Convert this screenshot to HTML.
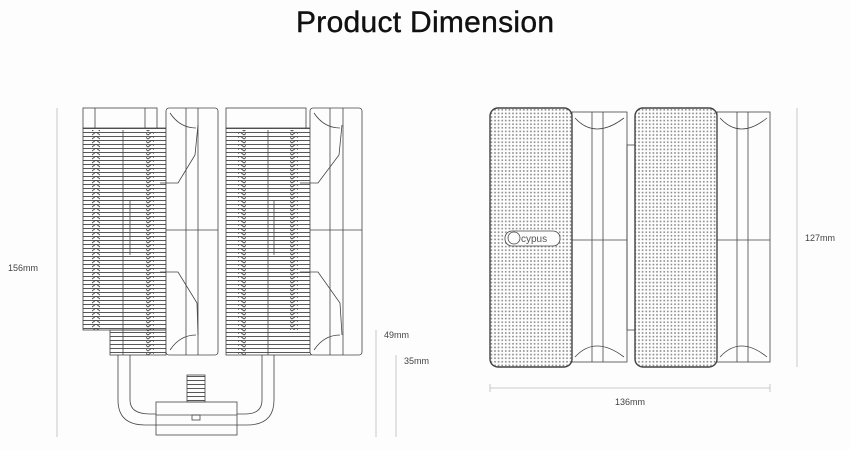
<!DOCTYPE html>
<html><head><meta charset="utf-8"><style>
html,body{margin:0;padding:0;background:#fdfdfd;width:850px;height:450px;overflow:hidden}
svg{display:block}
</style></head><body>
<svg width="850" height="450" viewBox="0 0 850 450" xmlns="http://www.w3.org/2000/svg" font-family="Liberation Sans, sans-serif">
<defs>
<pattern id="fins" width="6" height="4" patternUnits="userSpaceOnUse">
<line x1="0" y1="0.5" x2="6" y2="0.5" stroke="#444" stroke-width="0.9"/>
</pattern>
<pattern id="vv" width="8" height="4" patternUnits="userSpaceOnUse">
<path d="M0 0 L4 3 L8 0" fill="none" stroke="#444" stroke-width="0.8"/>
</pattern>
<pattern id="dots" width="3.6" height="3.6" patternUnits="userSpaceOnUse">
<circle cx="1.8" cy="1.8" r="0.9" fill="#888"/>
</pattern>
</defs>
<text x="425" y="32" font-size="30" text-anchor="middle" fill="#111" stroke="#111" stroke-width="0.4" textLength="258">Product Dimension</text>

<g fill="none" stroke="#444" stroke-width="0.8">
<!-- heatsink 1 -->
<rect x="83" y="128" width="83" height="202" fill="url(#fins)"/>
<rect x="110" y="330" width="56" height="25" fill="url(#fins)"/>
<rect x="92" y="130" width="8" height="200" fill="url(#vv)" stroke="none"/>
<rect x="146" y="130" width="8" height="225" fill="url(#vv)" stroke="none"/>
<rect x="83" y="108" width="74" height="20" fill="#fdfdfd"/>
<line x1="95" y1="108" x2="95" y2="128"/>
<line x1="145" y1="108" x2="145" y2="128"/>
<line x1="123" y1="130" x2="123" y2="355"/>
<line x1="130" y1="200" x2="130" y2="255"/>
<!-- fan 1 -->
<rect x="166" y="108" width="52" height="247" rx="3" fill="#fdfdfd"/>
<line x1="186" y1="108" x2="186" y2="355"/>
<line x1="198" y1="108" x2="198" y2="355"/>
<path d="M170 113 Q180 128 196 128"/><path d="M170 350 Q180 335 196 335"/>
<path d="M198 125 L195 155 L178 183 L160 183"/><path d="M160 272 L178 272 L197 303 L198 335"/>
<line x1="166" y1="230" x2="218" y2="230"/>
<!-- heatsink 2 -->
<rect x="226" y="128" width="85" height="227" fill="url(#fins)"/>
<rect x="238" y="130" width="8" height="225" fill="url(#vv)" stroke="none"/>
<rect x="290" y="130" width="8" height="200" fill="url(#vv)" stroke="none"/>
<rect x="226" y="108" width="80" height="20" fill="#fdfdfd"/>
<line x1="268" y1="130" x2="268" y2="355"/>
<line x1="274" y1="200" x2="274" y2="255"/>
<!-- fan 2 -->
<rect x="310" y="108" width="52" height="247" rx="3" fill="#fdfdfd"/>
<line x1="330" y1="108" x2="330" y2="355"/>
<line x1="343" y1="108" x2="343" y2="355"/>
<path d="M314 113 Q324 128 340 128"/><path d="M314 350 Q324 335 340 335"/>
<path d="M342 125 L339 155 L318 183 L300 183"/><path d="M300 272 L318 272 L340 303 L342 335"/>
<line x1="310" y1="230" x2="362" y2="230"/>
<!-- heatpipes -->
<path d="M118 355 V400 Q118 425 145 425 H156"/>
<path d="M130 355 V400 Q130 414 150 414 H156"/>
<path d="M274 355 V400 Q274 425 247 425 H237"/>
<path d="M262 355 V400 Q262 414 245 414 H237"/>
<!-- base -->
<rect x="156" y="402" width="81" height="33" fill="#fdfdfd"/>
<line x1="156" y1="415" x2="237" y2="415"/><line x1="156" y1="425" x2="237" y2="425"/>
<rect x="187" y="375" width="18" height="27" fill="url(#fins)"/>
<rect x="192" y="415" width="8" height="5"/>
<!-- dims -->
<line x1="57" y1="108" x2="57" y2="437" stroke="#bbb"/>
<line x1="376" y1="330" x2="376" y2="437" stroke="#bbb"/>
<line x1="396" y1="355" x2="396" y2="437" stroke="#bbb"/>

<!-- right front view -->
<rect x="572" y="112" width="55" height="250"/>
<rect x="717" y="112" width="53" height="250"/>
<rect x="490" y="108" width="82" height="259" rx="8" fill="url(#dots)" stroke-width="1.4"/>
<rect x="635" y="108" width="82" height="259" rx="8" fill="url(#dots)" stroke-width="1.4"/>
<line x1="592" y1="112" x2="592" y2="362"/><line x1="603" y1="112" x2="603" y2="362"/>
<line x1="737" y1="112" x2="737" y2="362"/><line x1="748" y1="112" x2="748" y2="362"/>
<path d="M575 118 Q595 140 624 118"/><path d="M575 357 Q595 335 624 357"/>
<path d="M720 118 Q740 140 767 118"/><path d="M720 357 Q740 335 767 357"/>
<line x1="572" y1="240" x2="627" y2="240"/><line x1="717" y1="240" x2="770" y2="240"/>
<rect x="627" y="145" width="8" height="185"/>
<rect x="505" y="231" width="55" height="15" rx="7" fill="#fdfdfd"/>
<circle cx="514" cy="238" r="6"/>
<line x1="797" y1="108" x2="797" y2="367" stroke="#bbb"/>
<line x1="490" y1="388" x2="770" y2="388" stroke="#bbb"/>
<line x1="490" y1="384" x2="490" y2="392" stroke="#bbb"/>
<line x1="770" y1="384" x2="770" y2="392" stroke="#bbb"/>
</g>
<text x="521" y="242" font-size="10" fill="#555">cypus</text>
<g font-size="9" fill="#444">
<text x="8" y="271">156mm</text>
<text x="384" y="338">49mm</text>
<text x="404" y="364">35mm</text>
<text x="805" y="241">127mm</text>
<text x="615" y="405">136mm</text>
</g>
</svg>
</body></html>
